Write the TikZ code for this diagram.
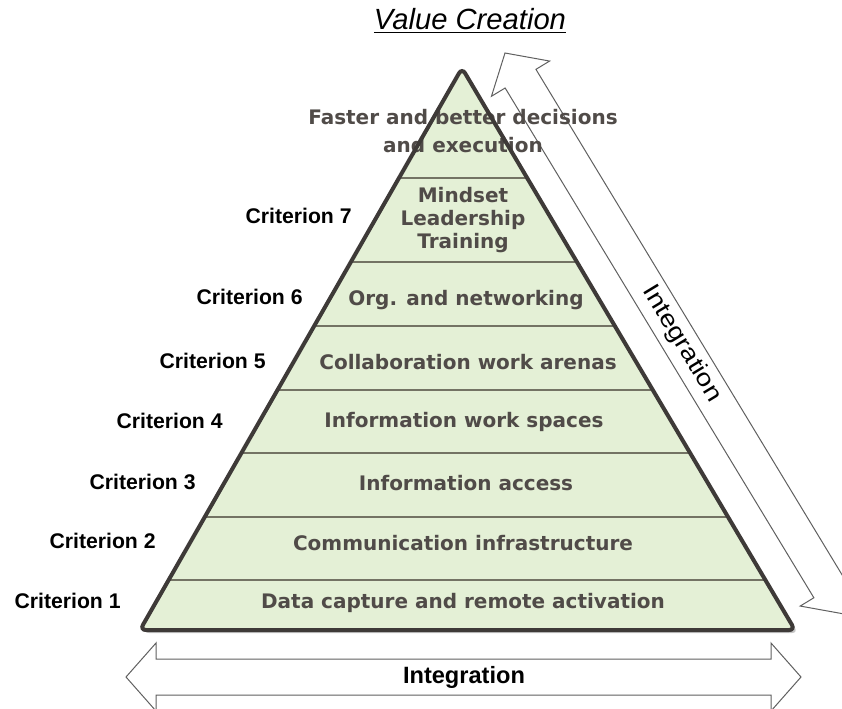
\documentclass[tikz,border=0pt]{standalone}
\usepackage{fontspec}
\setmainfont{Liberation Sans}
\newfontfamily\layerfont{DejaVu Sans}
\newfontfamily\sidefont{Liberation Sans}[FakeStretch=1.16]
\usetikzlibrary{calc}
\definecolor{layerfill}{RGB}{228,240,214}
\definecolor{layertext}{RGB}{80,75,72}
\definecolor{layerline}{RGB}{115,115,100}
\definecolor{rimcolor}{RGB}{62,58,56}
\newcommand{\intarrow}[1]{\draw[arrowline] (0,0) -- (30,-34) -- (30,-18) -- (#1-30,-18) -- (#1-30,-34) -- (#1,0)
					-- (#1-30,34) -- (#1-30,18) -- (30,18) -- (30,34) -- cycle;}
\tikzset{
	arrowline/.style = {draw=gray!75!black, fill=white, line width=0.5pt, line join=miter},
	band/.style = {draw=layerline, line width=1pt},
	layer/.style = {text=layertext, font=\layerfont\bfseries\fontsize{10}{11.5}\selectfont, align=center, inner sep=0pt},
	crit/.style = {font=\bfseries\fontsize{10.6}{12}\selectfont, anchor=east, inner sep=0pt}
}

\begin{document}
\begin{tikzpicture}[x=0.5pt, y=-0.5pt]
					\useasboundingbox (0,0) rectangle (842,708);

					\coordinate (apex) at (462,68);
					\coordinate (bl) at (140,630);
					\coordinate (br) at (795,630);

					\begin{scope}[shift={(505,53)}, rotate=-58.8]
						\intarrow{656}
					\end{scope}

					\begin{scope}[shift={(126,677)}]
						\intarrow{675}
					\end{scope}

					\fill[gray!45, rounded corners=3pt] ($(apex)+(3,3)$) -- ($(br)+(3,3)$) -- ($(bl)+(3,3)$) -- cycle;
					\fill[layerfill, rounded corners=3pt] (apex) -- (br) -- (bl) -- cycle;

					\draw[band] ($(apex)!0.1957!(bl)$) -- ($(apex)!0.1957!(br)$);
					\draw[band] ($(apex)!0.3452!(bl)$) -- ($(apex)!0.3452!(br)$);
					\draw[band] ($(apex)!0.4591!(bl)$) -- ($(apex)!0.4591!(br)$);
					\draw[band] ($(apex)!0.5730!(bl)$) -- ($(apex)!0.5730!(br)$);
					\draw[band] ($(apex)!0.6851!(bl)$) -- ($(apex)!0.6851!(br)$);
					\draw[band] ($(apex)!0.7989!(bl)$) -- ($(apex)!0.7989!(br)$);
					\draw[band] ($(apex)!0.9110!(bl)$) -- ($(apex)!0.9110!(br)$);

					\node[layer] (decide) at (463,131) {Faster and better decisions\\[2.6pt] and execution};
					\node[layer] (mindset) at (463,220) {Mindset\\[-0.2pt] Leadership\\[-0.2pt] Training};
					\node[layer] (org) at (466,300) {Org. and networking};
					\node[layer] (collab) at (468,362) {Collaboration work arenas};
					\node[layer] (workspace) at (464,422) {Information work spaces};
					\node[layer] (access) at (466,483) {Information access};
					\node[layer] (comm) at (463,543) {Communication infrastructure};
					\node[layer] (capture) at (463,603) {Data capture and remote activation};

					\draw[rimcolor, line width=2pt, rounded corners=3pt] (apex) -- (br) -- (bl) -- cycle;

					\node[crit] (c1) at (121,601) {Criterion 1};
					\node[crit] (c2) at (156,541) {Criterion 2};
					\node[crit] (c3) at (196,482) {Criterion 3};
					\node[crit] (c4) at (223,421) {Criterion 4};
					\node[crit] (c5) at (266,361) {Criterion 5};
					\node[crit] (c6) at (303,297) {Criterion 6};
					\node[crit] (c7) at (352,216) {Criterion 7};

					\node[inner sep=0pt, font=\itshape\fontsize{14.6}{16}\selectfont] (title) at (470,21) {\underline{Value Creation}};

					\node[inner sep=0pt, font=\bfseries\fontsize{11.8}{13}\selectfont] (bottomint) at (464,677) {Integration};
					\node[inner sep=0pt, rotate=-58.8, font=\sidefont\fontsize{12}{13}\selectfont] (sideint) at (682,344) {Integration};

				\end{tikzpicture}
\end{document}
